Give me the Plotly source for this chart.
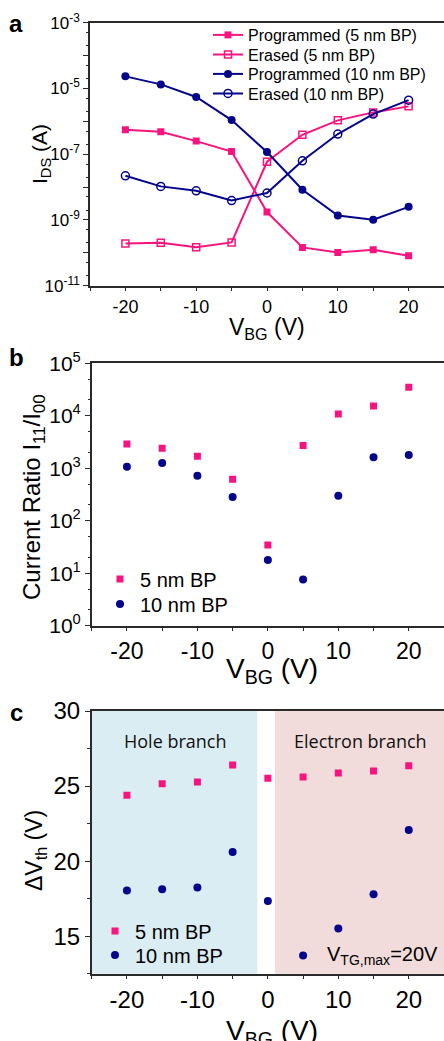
import plotly.graph_objects as go

W, H = 444, 1041

# ---------------- data ----------------
vbg = [-20, -15, -10, -5, 0, 5, 10, 15, 20]

# panel a: I_DS (A)
prog_5nm = [5.5e-7, 4.8e-7, 2.5e-7, 1.2e-7, 1.74e-9, 1.46e-10, 1.03e-10, 1.24e-10, 8.1e-11]
erase_5nm = [1.93e-10, 2.02e-10, 1.49e-10, 2.07e-10, 5.9e-8, 3.9e-7, 1.07e-6, 1.87e-6, 2.85e-6]
prog_10nm = [2.33e-5, 1.33e-5, 5.5e-6, 1.09e-6, 1.16e-7, 8.3e-9, 1.37e-9, 1.01e-9, 2.5e-9]
erase_10nm = [2.2e-8, 1.05e-8, 7.7e-9, 3.9e-9, 6.6e-9, 6.3e-8, 4.1e-7, 1.66e-6, 4.4e-6]

# panel b: current ratio I11/I00
ratio_5nm = [2900, 2400, 1690, 615, 34.5, 2700, 10800, 15400, 34900]
ratio_10nm = [1070, 1260, 723, 283, 17.9, 7.6, 300, 1615, 1790]

# panel c: delta Vth (V)
dvth_5nm = [24.39, 25.16, 25.27, 26.41, 25.52, 25.61, 25.87, 26.01, 26.36]
dvth_10nm = [18.04, 18.13, 18.24, 20.61, 17.35, 13.71, 15.51, 17.80, 22.08]

xtick_vals = [-25, -20, -15, -10, -5, 0, 5, 10, 15, 20, 25]
xtick_text = ["", "-20", "", "-10", "", "0", "", "10", "", "20", ""]

a_exps = [-11, -10, -9, -8, -7, -6, -5, -4, -3]
b_exps = [0, 1, 2, 3, 4, 5]
c_ticks = [15, 20, 25, 30]

PINK = "#F8137F"
NAVY = "#05058C"
AX = "#2a2a2a"
FONT = "Liberation Sans, Arial, sans-serif"


def px_x(p):
    return p / W


def px_y(p):
    return 1 - p / H


fig = go.Figure()

# ---- panel a ----
fig.add_trace(go.Scatter(x=vbg, y=prog_5nm, mode="lines+markers", name="Programmed (5 nm BP)",
                         line=dict(color=PINK, width=2), marker=dict(symbol="square", size=7, color=PINK),
                         xaxis="x", yaxis="y", legend="legend"))
fig.add_trace(go.Scatter(x=vbg, y=erase_5nm, mode="lines+markers", name="Erased (5 nm BP)",
                         line=dict(color=PINK, width=2),
                         marker=dict(symbol="square-open", size=7, color=PINK, line=dict(width=1.5)),
                         xaxis="x", yaxis="y", legend="legend2"))
fig.add_trace(go.Scatter(x=vbg, y=prog_10nm, mode="lines+markers", name="Programmed (10 nm BP)",
                         line=dict(color=NAVY, width=2), marker=dict(symbol="circle", size=8, color=NAVY),
                         xaxis="x", yaxis="y", legend="legend3"))
fig.add_trace(go.Scatter(x=vbg, y=erase_10nm, mode="lines+markers", name="Erased (10 nm BP)",
                         line=dict(color=NAVY, width=2),
                         marker=dict(symbol="circle-open", size=8, color=NAVY, line=dict(width=1.5)),
                         xaxis="x", yaxis="y", legend="legend4"))

# ---- panel b ----
fig.add_trace(go.Scatter(x=vbg, y=ratio_5nm, mode="markers", name="5 nm BP",
                         marker=dict(symbol="square", size=7, color=PINK),
                         xaxis="x2", yaxis="y2", legend="legend5"))
fig.add_trace(go.Scatter(x=vbg, y=ratio_10nm, mode="markers", name="10 nm BP",
                         marker=dict(symbol="circle", size=8, color=NAVY),
                         xaxis="x2", yaxis="y2", legend="legend6"))

# ---- panel c ----
fig.add_trace(go.Scatter(x=vbg, y=dvth_5nm, mode="markers", name="5 nm BP",
                         marker=dict(symbol="square", size=7, color=PINK),
                         xaxis="x3", yaxis="y3", legend="legend7"))
fig.add_trace(go.Scatter(x=vbg, y=dvth_10nm, mode="markers", name="10 nm BP",
                         marker=dict(symbol="circle", size=8, color=NAVY),
                         xaxis="x3", yaxis="y3", legend="legend8"))


def xaxis(domain, anchor, size):
    return dict(domain=domain, anchor=anchor, range=[-25, 25], tickvals=xtick_vals, ticktext=xtick_text,
                ticks="outside", ticklen=4, tickcolor=AX, showline=True, linecolor=AX, linewidth=1.5,
                mirror=True, showgrid=False, zeroline=False, automargin=False,
                tickfont=dict(family=FONT, size=size, color="black"))


def leg(x_px, yc_px, size):
    return dict(x=px_x(x_px), y=px_y(yc_px), xanchor="left", yanchor="middle",
                bgcolor="rgba(0,0,0,0)", font=dict(family=FONT, size=size, color="black"), itemwidth=30)


fig.update_layout(
    width=W, height=H, margin=dict(l=0, r=0, t=0, b=0, autoexpand=False),
    paper_bgcolor="white", plot_bgcolor="white",
    font=dict(family=FONT, color="black"),
    xaxis=xaxis([px_x(90), 1.0], "y", 18),
    yaxis=dict(domain=[px_y(285.7), px_y(22.7)], anchor="x", type="log", range=[-11, -3],
               tickvals=[10.0 ** e for e in a_exps],
               ticktext=[("10<sup>%d</sup>" % e) if e % 2 else "" for e in a_exps],
               ticks="outside", ticklen=5, tickcolor=AX, showline=True, linecolor=AX, linewidth=1.5,
               showgrid=False, zeroline=False, automargin=False,
               tickfont=dict(family=FONT, size=17, color="black"),
               minor=dict(ticks="outside", ticklen=2, tickcolor=AX, showgrid=False)),
    xaxis2=xaxis([px_x(91.7), 1.0], "y2", 23),
    yaxis2=dict(domain=[px_y(625.7), px_y(363.3)], anchor="x2", type="log", range=[0, 5],
                tickvals=[10.0 ** e for e in b_exps],
                ticktext=["10<sup>%d</sup>" % e for e in b_exps],
                ticks="outside", ticklen=5, tickcolor=AX, showline=True, linecolor=AX, linewidth=1.5,
                showgrid=False, zeroline=False, automargin=False,
                tickfont=dict(family=FONT, size=21, color="black"),
                minor=dict(ticks="outside", ticklen=2, tickcolor=AX, showgrid=False)),
    xaxis3=xaxis([px_x(91.7), 1.0], "y3", 24),
    yaxis3=dict(domain=[px_y(973.7), px_y(711)], anchor="x3", range=[12.5, 30],
                tickvals=c_ticks, ticks="outside", ticklen=5, tickcolor=AX, showline=True, linecolor=AX,
                linewidth=1.5, showgrid=False, zeroline=False, automargin=False,
                tickfont=dict(family=FONT, size=24, color="black"),
                minor=dict(dtick=2.5, tick0=0, ticks="outside", ticklen=3, tickcolor=AX, showgrid=False)),
    legend=leg(208, 35, 16),
    legend2=leg(208, 54.5, 16),
    legend3=leg(208, 74, 16),
    legend4=leg(208, 93.5, 16),
    legend5=leg(100, 579, 20),
    legend6=leg(100, 604, 20),
    legend7=leg(95, 931, 20),
    legend8=leg(95, 955, 20),
    showlegend=True,
)

# shaded branches in panel c
fig.add_shape(type="rect", xref="x3", yref="y3 domain", x0=-25, x1=-1.5, y0=0, y1=1,
              fillcolor="#DAEDF3", line=dict(width=0), layer="below")
fig.add_shape(type="rect", xref="x3", yref="y3 domain", x0=1, x1=25, y0=0, y1=1,
              fillcolor="#F2DCDB", line=dict(width=0), layer="below")

ann = []
# panel letters
for lab, yy in [("a", 23), ("b", 358), ("c", 712)]:
    ann.append(dict(text="<b>%s</b>" % lab, x=px_x(16), y=px_y(yy), xref="paper", yref="paper",
                    showarrow=False, xanchor="center", yanchor="middle",
                    font=dict(family=FONT, size=24, color="black")))
# axis titles
ann.append(dict(text="I<sub>DS</sub> (A)", x=px_x(41), y=px_y(154), xref="paper", yref="paper",
                textangle=-90, showarrow=False, xanchor="center", yanchor="middle",
                font=dict(family=FONT, size=21)))
ann.append(dict(text="V<sub>BG</sub> (V)", x=px_x(267), y=px_y(328), xref="paper", yref="paper",
                showarrow=False, xanchor="center", yanchor="middle", font=dict(family=FONT, size=23)))
ann.append(dict(text="Current Ratio I<sub>11</sub>/I<sub>00</sub>", x=px_x(33), y=px_y(497),
                xref="paper", yref="paper", textangle=-90, showarrow=False, xanchor="center",
                yanchor="middle", font=dict(family=FONT, size=24)))
ann.append(dict(text="V<sub>BG</sub> (V)", x=px_x(272), y=px_y(670), xref="paper", yref="paper",
                showarrow=False, xanchor="center", yanchor="middle", font=dict(family=FONT, size=28)))
ann.append(dict(text="ΔV<sub>th</sub> (V)", x=px_x(35), y=px_y(851), xref="paper", yref="paper",
                textangle=-90, showarrow=False, xanchor="center", yanchor="middle",
                font=dict(family=FONT, size=23)))
ann.append(dict(text="V<sub>BG</sub> (V)", x=px_x(272), y=px_y(1032), xref="paper", yref="paper",
                showarrow=False, xanchor="center", yanchor="middle", font=dict(family=FONT, size=28)))
# panel c texts
ann.append(dict(text="Hole branch", x=px_x(175), y=px_y(741), xref="paper", yref="paper",
                showarrow=False, xanchor="center", yanchor="middle",
                font=dict(family="Open Sans", size=18, color="#111111")))
ann.append(dict(text="Electron branch", x=px_x(360), y=px_y(741), xref="paper", yref="paper",
                showarrow=False, xanchor="center", yanchor="middle",
                font=dict(family="Open Sans", size=18, color="#111111")))
ann.append(dict(text="V<sub>TG,max</sub>=20V", x=px_x(325), y=px_y(955), xref="paper", yref="paper",
                showarrow=False, xanchor="left", yanchor="middle", font=dict(family=FONT, size=20)))
fig.update_layout(annotations=ann)

fig.write_html("out.html", config={"displayModeBar": False},
               post_script="document.body.style.margin='0';document.body.style.overflow='hidden';")
